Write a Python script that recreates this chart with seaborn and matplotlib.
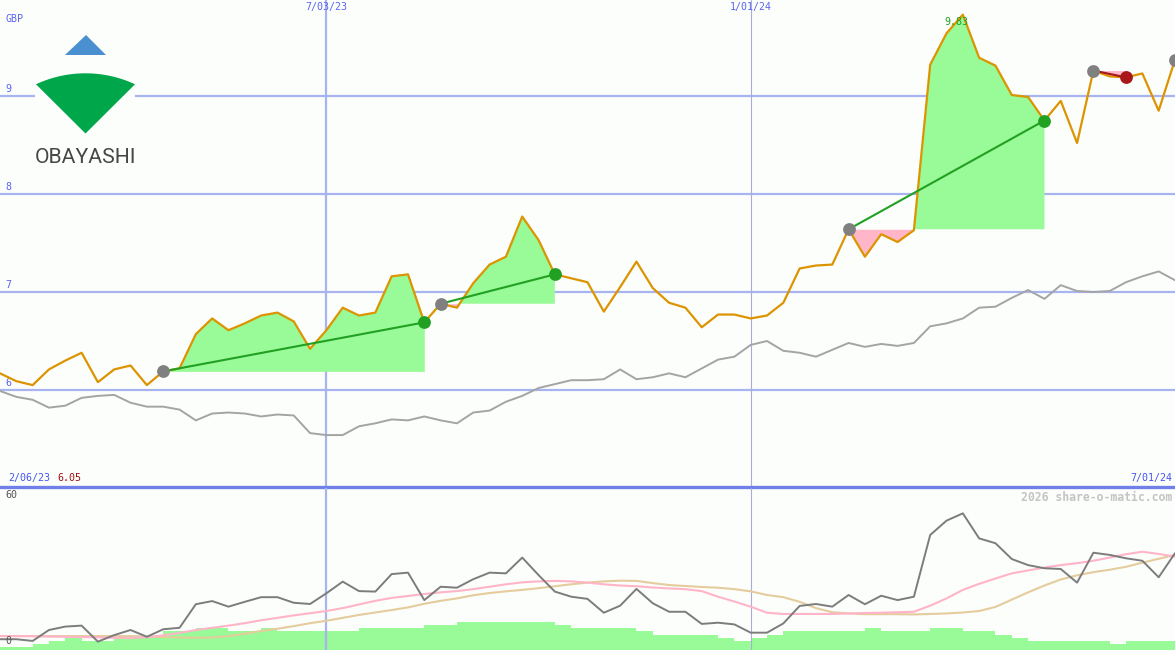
import numpy as np
import pandas as pd
import matplotlib
matplotlib.use("Agg")
import matplotlib.pyplot as plt
import matplotlib.transforms as mtransforms
from matplotlib.patches import Polygon
import seaborn as sns

# weekly closes, GBP
dates = pd.date_range("2023-02-13", "2024-07-01", freq="7D")
price = [6.17, 6.09, 6.05, 6.21, 6.30, 6.38, 6.08, 6.21, 6.25, 6.05,
         6.19, 6.22, 6.57, 6.73, 6.61, 6.68, 6.76, 6.79, 6.70, 6.42,
         6.61, 6.84, 6.76, 6.79, 7.16, 7.18, 6.69, 6.88, 6.84, 7.09,
         7.28, 7.36, 7.77, 7.53, 7.18, 7.14, 7.10, 6.80, 7.05, 7.31,
         7.04, 6.89, 6.84, 6.64, 6.77, 6.77, 6.73, 6.76, 6.89, 7.24,
         7.27, 7.28, 7.64, 7.36, 7.59, 7.51, 7.63, 9.32, 9.64, 9.83,
         9.39, 9.31, 9.01, 8.99, 8.75, 8.95, 8.52, 9.26, 9.20, 9.19,
         9.23, 8.85, 9.37]
# comparison index (rebased)
index_line = [5.99, 5.93, 5.90, 5.82, 5.84, 5.92, 5.94, 5.95, 5.87, 5.83,
              5.83, 5.80, 5.69, 5.76, 5.77, 5.76, 5.73, 5.75, 5.74, 5.56,
              5.54, 5.54, 5.63, 5.66, 5.70, 5.69, 5.73, 5.69, 5.66, 5.77,
              5.79, 5.88, 5.94, 6.02, 6.06, 6.10, 6.10, 6.11, 6.21, 6.11,
              6.13, 6.17, 6.13, 6.22, 6.31, 6.34, 6.46, 6.50, 6.40, 6.38,
              6.34, 6.41, 6.48, 6.44, 6.47, 6.45, 6.48, 6.65, 6.68, 6.73,
              6.84, 6.85, 6.94, 7.02, 6.93, 7.07, 7.01, 7.00, 7.01, 7.10,
              7.16, 7.21, 7.12]
# lower panel indicator
momentum = [3.2, 3.2, 2.5, 7.0, 8.4, 8.8, 2.2, 4.9, 7.0, 4.2,
            7.3, 7.9, 17.6, 18.9, 16.6, 18.6, 20.5, 20.5, 18.2, 17.7,
            22.1, 26.9, 23.0, 22.8, 30.0, 30.6, 19.3, 24.8, 24.4, 27.9,
            30.6, 30.3, 36.8, 29.6, 22.8, 20.7, 19.8, 14.1, 17.0, 23.9,
            18.0, 14.5, 14.5, 9.5, 10.0, 9.3, 5.9, 5.9, 9.7, 16.9,
            17.7, 16.6, 21.4, 17.6, 21.1, 19.3, 20.7, 46.1, 52.0, 55.0,
            44.7, 42.7, 36.2, 33.7, 32.4, 32.1, 26.5, 38.8, 37.9, 36.5,
            35.5, 28.7, 38.6]
ma_fast = [4.5, 4.5, 4.4, 4.3, 4.2, 4.1, 4.0, 3.8, 3.7, 4.0,
           4.8, 5.8, 7.0, 7.9, 8.8, 9.8, 11.0, 12.0, 13.0, 13.9,
           14.8, 16.0, 17.5, 19.0, 20.2, 21.0, 21.8, 22.5, 23.0, 23.8,
           24.8, 25.8, 26.6, 27.0, 27.2, 27.0, 26.5, 25.8, 25.3, 25.0,
           24.5, 24.1, 23.8, 23.0, 20.7, 18.7, 16.6, 14.1, 13.6, 13.6,
           13.6, 13.6, 13.8, 14.0, 14.1, 14.3, 14.5, 17.0, 20.0, 23.5,
           26.0, 28.2, 30.3, 31.5, 32.7, 33.7, 34.5, 35.5, 36.8, 38.2,
           39.2, 38.3, 37.2]
ma_slow = [4.5, 4.5, 4.5, 4.5, 4.5, 4.5, 4.5, 4.5, 4.5, 4.3,
           4.1, 3.9, 3.8, 3.9, 4.5, 5.5, 6.6, 7.5, 8.6, 9.8,
           10.8, 12.0, 13.2, 14.2, 15.2, 16.3, 17.8, 19.0, 20.0, 21.3,
           22.2, 22.9, 23.5, 24.2, 25.0, 25.8, 26.5, 27.0, 27.3, 27.2,
           26.3, 25.5, 25.1, 24.7, 24.4, 23.8, 22.9, 21.4, 20.5, 18.6,
           16.0, 14.3, 13.8, 13.5, 13.5, 13.5, 13.4, 13.6, 13.8, 14.2,
           14.8, 16.5, 19.5, 22.5, 25.3, 27.8, 29.5, 30.8, 31.8, 33.0,
           34.7, 36.3, 37.9]
# weekly volume (relative)
volume = [3.3, 3.3, 6, 9, 12, 9, 9, 12.7, 12.7, 12.7,
          19, 19, 22, 22, 19, 19, 22, 19, 19, 19,
          19, 19, 22, 22, 22, 22, 25, 25, 28, 28,
          28, 28, 28, 28, 25, 22, 22, 22, 22, 19,
          15, 15, 15, 15, 12, 9, 12, 15, 19, 19,
          19, 19, 19, 22, 19, 19, 19, 22, 22, 19,
          19, 15, 12, 9, 9, 9, 9, 9, 6, 9,
          9, 9]
buy_idx = [10, 27, 52, 67, 72]
sell_idx = [26, 34, 64, 69]
grid_levels = [6, 7, 8, 9]
date_marks = ["2023-07-03", "2024-01-01"]
date_labels = ["7/03/23", "1/01/24"]

bg = "#fcfefc"
orange = "#dc9400"
green_fill = "#98fb98"
pink_fill = "#ffb6c8"
green_line = "#22a022"
red_dot = "#a81818"
grid_c = "#a8b4f0"
blue_txt = "#5a64f0"

sns.set_style("white")
plt.rcParams["font.family"] = ["DejaVu Sans Mono", "DejaVu Sans"]

W, H = 1175, 650
fig = plt.figure(figsize=(W / 100, H / 100), dpi=100)
fig.patch.set_facecolor(bg)

ax = fig.add_axes([0, 163 / H, 1, 487 / H])
ax2 = fig.add_axes([0, 0, 1, 162 / H])
for a in (ax, ax2):
    a.set_facecolor(bg)
    a.set_xlim(dates[0], dates[-1])
    a.set_xticks([])
    a.set_yticks([])
    for sp in a.spines.values():
        sp.set_visible(False)
ax.spines["bottom"].set_visible(True)
ax.spines["bottom"].set_color("#7080e8")
ax.spines["bottom"].set_linewidth(2.4)

ax.set_ylim(9 - 391 / 98, 9 + 96 / 98)
ax2.set_ylim(-3 / 2.43, 159 / 2.43)

# grid
for v in grid_levels:
    ax.axhline(v, color=grid_c, lw=1.6, zorder=1)
for a in (ax, ax2):
    a.axvline(pd.Timestamp(date_marks[0]), color=grid_c, lw=1.6, zorder=1)
    a.axvline(pd.Timestamp(date_marks[1]), color="#a8acd8", lw=0.8, zorder=1)

df = pd.DataFrame({"date": dates, "price": price, "index": index_line,
                   "momentum": momentum, "fast": ma_fast, "slow": ma_slow})
p = np.array(price)

# trades: fill vs entry price
for b, s in zip(buy_idx, sell_idx):
    seg = slice(b, s + 1)
    base = p[b]
    ax.fill_between(dates[seg], base, p[seg], where=p[seg] >= base,
                    interpolate=True, color=green_fill, lw=0, zorder=2)
    ax.fill_between(dates[seg], base, p[seg], where=p[seg] <= base,
                    interpolate=True, color=pink_fill, lw=0, zorder=2)

sns.lineplot(data=df, x="date", y="index", ax=ax, color="#a4a4a4", lw=1.4, zorder=3)
sns.lineplot(data=df, x="date", y="price", ax=ax, color=orange, lw=1.6, zorder=4)

for b, s in zip(buy_idx, sell_idx):
    c = green_line if p[s] > p[b] else red_dot
    ax.plot([dates[b], dates[s]], [p[b], p[s]], color=c, lw=1.5, zorder=5)
    ax.scatter([dates[s]], [p[s]], s=85, color=c, zorder=6, lw=0)
ax.scatter(dates[buy_idx], p[buy_idx], s=85, color="#808080", zorder=6, lw=0)

# lower panel
axv = ax2.twinx()
axv.set_ylim(0, 162)
axv.set_yticks([])
for sp in axv.spines.values():
    sp.set_visible(False)
axv.bar(dates[:-1], volume, width=7, align="edge", color=green_fill, lw=0, zorder=2)
ax2.set_zorder(axv.get_zorder() + 1)
ax2.patch.set_visible(False)
axv.set_zorder(0)
sns.lineplot(data=df, x="date", y="slow", ax=ax2, color="#e4cc9c", lw=1.5)
sns.lineplot(data=df, x="date", y="fast", ax=ax2, color="#ffb4c8", lw=1.5)
sns.lineplot(data=df, x="date", y="momentum", ax=ax2, color="#7c7c7c", lw=1.4)
for a in (ax, ax2):
    a.set_xlabel("")
    a.set_ylabel("")

# text
ax_x = mtransforms.blended_transform_factory(ax.transAxes, ax.transData)
ax_d = mtransforms.blended_transform_factory(ax.transData, ax.transAxes)
fs = 7.2
ax.text(5 / W, 1 - 14 / 487, "GBP", transform=ax.transAxes, color=blue_txt,
        fontsize=fs, va="top")
for v in grid_levels:
    ax.text(5 / W, v + 0.02, str(v), transform=ax_x, color=blue_txt,
            fontsize=fs, va="bottom")
for d, lab in zip(date_marks, date_labels):
    ax.text(pd.Timestamp(d), 1 - 2 / 487, lab, transform=ax_d, color=blue_txt,
            fontsize=fs, va="top", ha="center")
pk = int(np.argmax(p))
shift = mtransforms.offset_copy(ax.transData, fig=fig, x=-6, y=0, units="dots")
ax.text(dates[pk], p[pk] - 0.02, f"{p[pk]:.2f}", color=green_line, transform=shift,
        fontsize=fs, va="top", ha="center", zorder=7)
ax.text(8 / W, 4 / 487, "2/06/23", transform=ax.transAxes, color="#4455ee",
        fontsize=fs, va="bottom")
ax.text(57 / W, 4 / 487, f"{min(price):.2f}", transform=ax.transAxes,
        color="#a01010", fontsize=fs, va="bottom")
ax.text(1 - 3 / W, 4 / 487, "7/01/24", transform=ax.transAxes, color="#4455ee",
        fontsize=fs, va="bottom", ha="right")
ax2.text(1 - 3 / W, 1 - 3 / 162, "2026 share-o-matic.com", transform=ax2.transAxes,
         color="#c4c4c4", fontsize=8.3, fontweight="bold", va="top", ha="right")
ax2_x = mtransforms.blended_transform_factory(ax2.transAxes, ax2.transData)
for v in [60, 0]:
    ax2.text(5 / W, v + 0.3, str(v), transform=ax2_x, color="#555555",
             fontsize=fs, va="bottom")

# logo
lg = fig.add_axes([35 / W, 1 - 168 / H, 100 / W, 138 / H])
lg.set_xlim(35, 135)
lg.set_ylim(168, 30)
lg.axis("off")
lg.add_patch(plt.Rectangle((35, 30), 100, 138, color=bg, zorder=0))
lg.add_patch(Polygon([(86, 35), (65, 55), (106, 55)], closed=True,
                     color="#4a8fd0", lw=0))
R = 117.0
cx, cy = 85.5, 73.3 + R
half = np.arcsin(49.5 / R)
ang = np.linspace(-half, half, 40)
arc = [(cx + R * np.sin(t), cy - R * np.cos(t)) for t in ang]
lg.add_patch(Polygon([(85.5, 133.5)] + arc, closed=True, color="#00a64a", lw=0))
lg.text(85, 162.5, "OBAYASHI", ha="center", va="baseline", color="#464646",
        fontsize=15.2, family=["Roboto", "DejaVu Sans"], clip_on=False)

fig.savefig("out.png", dpi=100, facecolor=bg)
